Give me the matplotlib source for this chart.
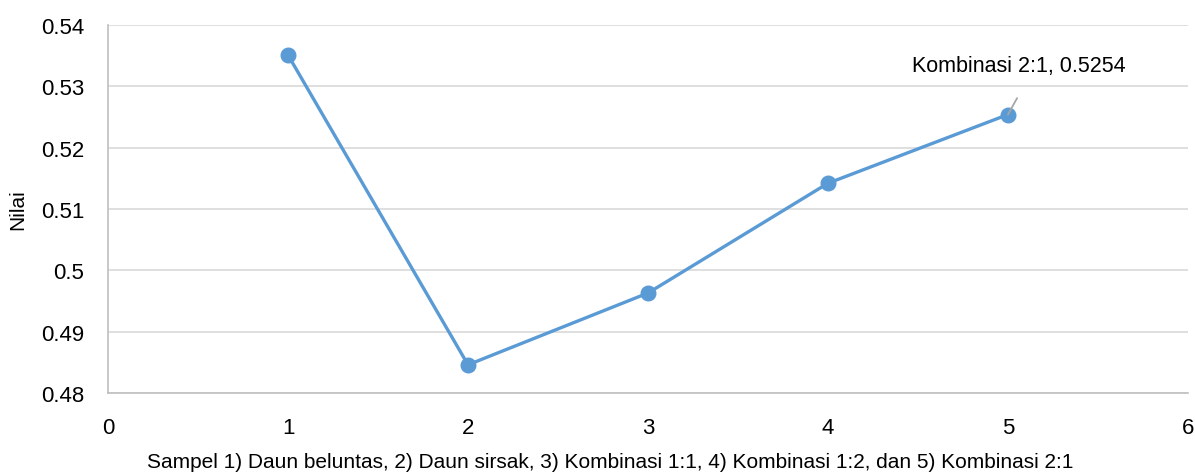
import matplotlib
matplotlib.use("Agg")
import matplotlib.pyplot as plt
from matplotlib import font_manager

names = {f.name for f in font_manager.fontManager.ttflist}
fam = ["Liberation Sans Narrow", "Liberation Sans", "DejaVu Sans"]
fam = [f for f in fam if f in names] + ["DejaVu Sans"]
plt.rcParams['font.family'] = fam

x_vals = [1, 2, 3, 4, 5]
y_vals = [0.5351, 0.4846, 0.4963, 0.5142, 0.5254]
label_text = "Kombinasi 2:1, 0.5254"
xlabel = "Sampel 1) Daun beluntas, 2) Daun sirsak, 3) Kombinasi 1:1, 4) Kombinasi 1:2, dan 5) Kombinasi 2:1"
ylabel = "Nilai"
yticks = [0.48, 0.49, 0.5, 0.51, 0.52, 0.53, 0.54]
ytick_labels = ["0.48", "0.49", "0.5", "0.51", "0.52", "0.53", "0.54"]
xticks = [0, 1, 2, 3, 4, 5, 6]

fig = plt.figure(figsize=(11.95, 4.77), dpi=100)
ax = fig.add_axes([0.0904, 0.174, 0.9037, 0.7715])
color = "#5B9BD5"
ax.plot(x_vals, y_vals, color=color, lw=2.4, marker="o", ms=10.5, zorder=3)
ax.set_xlim(0, 6)
ax.set_ylim(0.48, 0.54)
ax.set_yticks(yticks)
ax.set_yticklabels(ytick_labels)
ax.set_xticks(xticks)
ax.grid(axis="y", color="#D9D9D9", lw=1.2)
ax.set_axisbelow(True)
for s in ["top", "right"]:
    ax.spines[s].set_visible(False)
for s in ["left", "bottom"]:
    ax.spines[s].set_color("#BFBFBF")
    ax.spines[s].set_linewidth(1.2)
ax.tick_params(length=0, labelsize=16)
ax.tick_params(axis="x", pad=17)
ax.tick_params(axis="y", pad=17)
ax.set_xlabel(xlabel, fontsize=15)
ax.xaxis.set_label_coords(0.465, -0.16)
ax.set_ylabel(ylabel, fontsize=15, labelpad=10)

ax.annotate(label_text, xy=(x_vals[-1], y_vals[-1]), xytext=(x_vals[-1] + 0.06, 0.5334),
            textcoords="data", ha="center", va="center", fontsize=15.5,
            arrowprops=dict(arrowstyle="-", color="#A6A6A6", lw=1.3, shrinkA=16, shrinkB=0,
                            relpos=(0.55, 0)), zorder=4)

fig.savefig("out.png", dpi=100)
